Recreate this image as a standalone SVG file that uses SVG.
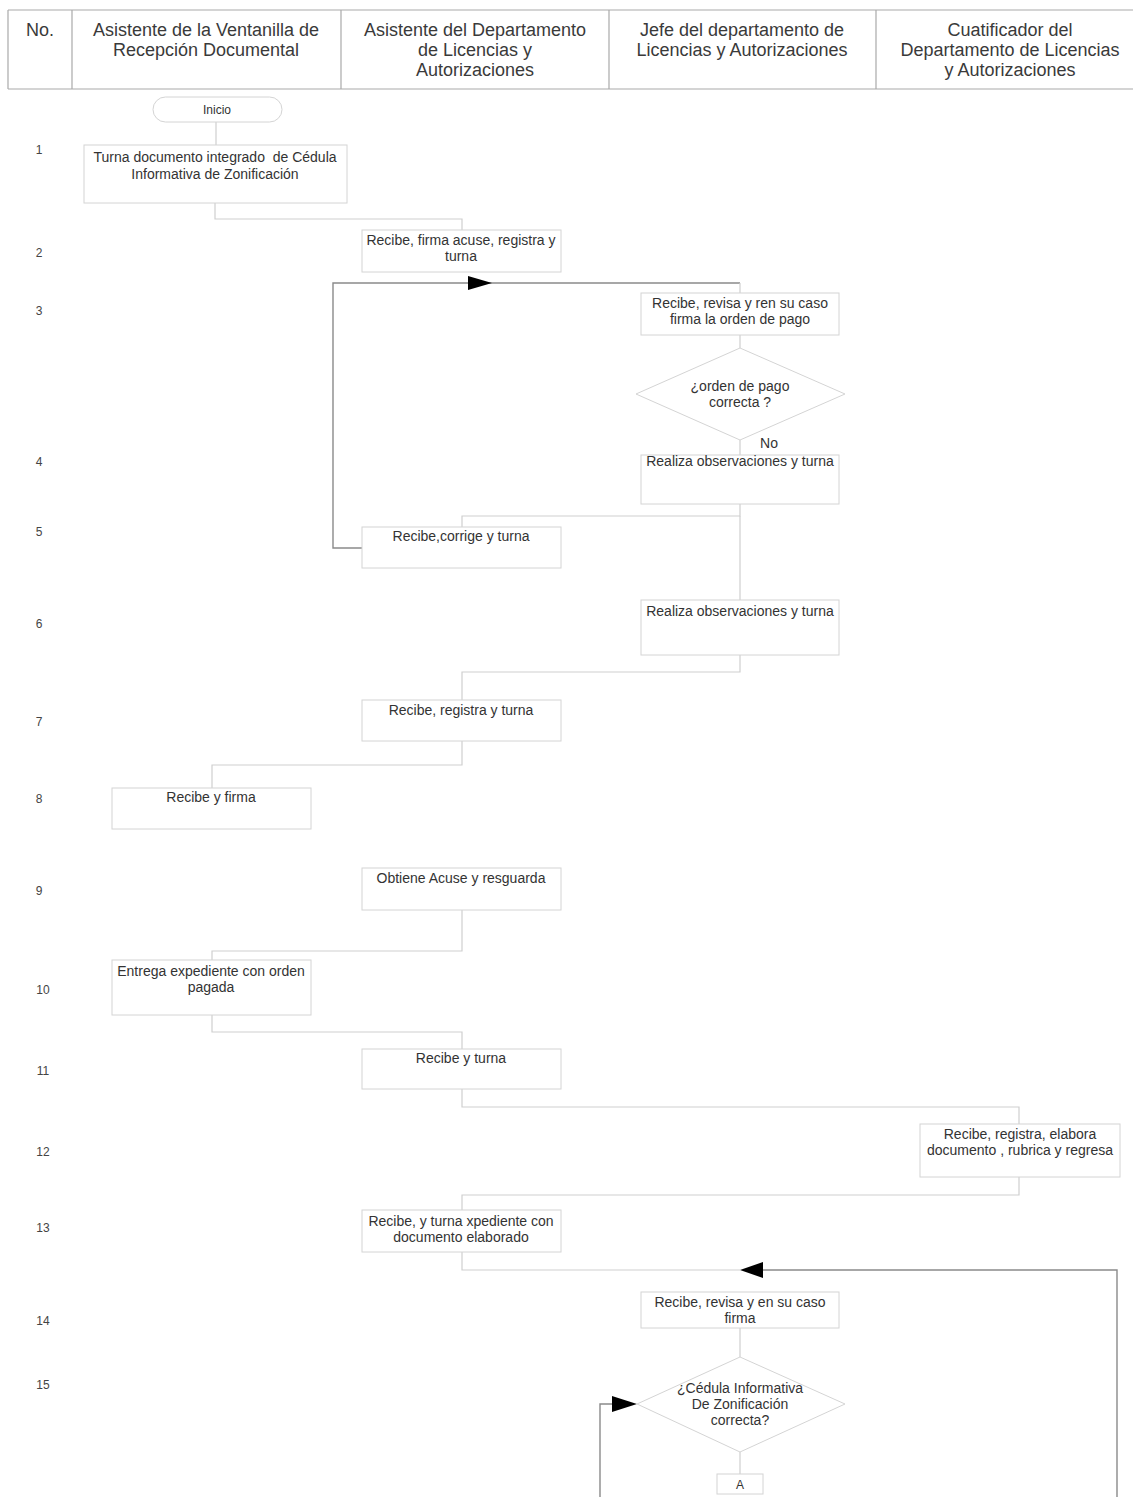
<svg xmlns="http://www.w3.org/2000/svg" width="1133" height="1497" viewBox="0 0 1133 1497">
<style>
text{font-family:"Liberation Sans",Arial,sans-serif;fill:#333}
.h{font-size:18px;fill:#3a3a3a;text-anchor:middle}
.t{font-size:14px;text-anchor:middle}
.n{font-size:12px;text-anchor:middle;fill:#444}
.box{fill:#fff;stroke:#d4d4d4;stroke-width:1}
.c{fill:none;stroke:#cfcfcf;stroke-width:1.2}
.cd{fill:none;stroke:#8a8a8a;stroke-width:1.4}
.ah{fill:#000}
</style>
<rect width="1133" height="1497" fill="#fff"/>
<g id="header">
<path d="M8,10 H1133 M8,89 H1133 M8,10 V89 M72,10 V89 M341,10 V89 M609,10 V89 M876,10 V89" fill="none" stroke="#aaa" stroke-width="1.2"/>
<text class="h" x="40" y="36">No.</text>
<text class="h" x="206" y="36">Asistente de la Ventanilla de</text>
<text class="h" x="206" y="56">Recepción Documental</text>
<text class="h" x="475" y="36">Asistente del Departamento</text>
<text class="h" x="475" y="56">de Licencias y</text>
<text class="h" x="475" y="76">Autorizaciones</text>
<text class="h" x="742" y="36">Jefe del departamento de</text>
<text class="h" x="742" y="56">Licencias y Autorizaciones</text>
<text class="h" x="1010" y="36">Cuatificador del</text>
<text class="h" x="1010" y="56">Departamento de Licencias</text>
<text class="h" x="1010" y="76">y Autorizaciones</text>
</g>
<g id="numbers">
<text class="n" x="39" y="154">1</text>
<text class="n" x="39" y="257">2</text>
<text class="n" x="39" y="315">3</text>
<text class="n" x="39" y="466">4</text>
<text class="n" x="39" y="536">5</text>
<text class="n" x="39" y="628">6</text>
<text class="n" x="39" y="726">7</text>
<text class="n" x="39" y="803">8</text>
<text class="n" x="39" y="895">9</text>
<text class="n" x="43" y="994">10</text>
<text class="n" x="43" y="1075">11</text>
<text class="n" x="43" y="1156">12</text>
<text class="n" x="43" y="1232">13</text>
<text class="n" x="43" y="1325">14</text>
<text class="n" x="43" y="1389">15</text>
</g>
<g id="connectors">
<path class="c" d="M216,122 V145"/>
<path class="c" d="M215,203 V219 H462 V230"/>
<path class="cd" d="M362,548 H333 V283 H740"/>
<polygon class="ah" points="468,276 492,283 468,290"/>
<path class="c" d="M740,283 V293"/>
<path class="c" d="M740,335 V348"/>
<path class="c" d="M740,440 V455"/>
<path class="c" d="M740,504 V516 H462 V527"/>
<path class="c" d="M740,516 V600"/>
<path class="c" d="M740,655 V672 H462 V700"/>
<path class="c" d="M462,741 V765 H212 V788"/>
<path class="c" d="M462,910 V951 H212 V960"/>
<path class="c" d="M212,1015 V1032 H462 V1049"/>
<path class="c" d="M462,1089 V1107 H1019 V1124"/>
<path class="c" d="M1019,1177 V1195 H462 V1210"/>
<path class="c" d="M462,1252 V1270 H740"/>
<path class="cd" d="M1117,1497 V1270 H760"/>
<polygon class="ah" points="763,1262 740,1270 763,1278"/>
<path class="c" d="M740,1328 V1357"/>
<path class="cd" d="M600,1497 V1404 H614"/>
<polygon class="ah" points="612,1396 637,1404 612,1412"/>
<path class="c" d="M740,1452 V1474"/>
</g>
<g id="inicio">
<rect class="box" x="153" y="97" width="129" height="25" rx="12.5"/>
<text class="t" x="217" y="114" style="font-size:12px">Inicio</text>
</g>
<g id="step1">
<rect class="box" x="84" y="145" width="263" height="58"/>
<text class="t" x="215" y="162" xml:space="preserve">Turna documento integrado  de Cédula</text>
<text class="t" x="215" y="179">Informativa de Zonificación</text>
</g>
<g id="step2">
<rect class="box" x="362" y="230" width="199" height="42"/>
<text class="t" x="461" y="245">Recibe, firma acuse, registra y</text>
<text class="t" x="461" y="261">turna</text>
</g>
<g id="step3">
<rect class="box" x="641" y="293" width="198" height="42"/>
<text class="t" x="740" y="308">Recibe, revisa y ren su caso</text>
<text class="t" x="740" y="324">firma la orden de pago</text>
</g>
<g id="decision1">
<polygon class="box" points="740,348 845,394 740,440 636,394"/>
<text class="t" x="740" y="391">¿orden de pago</text>
<text class="t" x="740" y="407">correcta ?</text>
<text class="t" x="769" y="448">No</text>
</g>
<g id="step4">
<rect class="box" x="641" y="455" width="198" height="49"/>
<text class="t" x="740" y="466">Realiza observaciones y turna</text>
</g>
<g id="step5">
<rect class="box" x="362" y="527" width="199" height="41"/>
<text class="t" x="461" y="541">Recibe,corrige y turna</text>
</g>
<g id="step6">
<rect class="box" x="641" y="600" width="198" height="55"/>
<text class="t" x="740" y="616">Realiza observaciones y turna</text>
</g>
<g id="step7">
<rect class="box" x="362" y="700" width="199" height="41"/>
<text class="t" x="461" y="715">Recibe, registra y turna</text>
</g>
<g id="step8">
<rect class="box" x="112" y="788" width="199" height="41"/>
<text class="t" x="211" y="802">Recibe y firma</text>
</g>
<g id="step9">
<rect class="box" x="362" y="868" width="199" height="42"/>
<text class="t" x="461" y="883">Obtiene Acuse y resguarda</text>
</g>
<g id="step10">
<rect class="box" x="112" y="960" width="199" height="55"/>
<text class="t" x="211" y="976">Entrega expediente con orden</text>
<text class="t" x="211" y="992">pagada</text>
</g>
<g id="step11">
<rect class="box" x="362" y="1049" width="199" height="40"/>
<text class="t" x="461" y="1063">Recibe y turna</text>
</g>
<g id="step12">
<rect class="box" x="920" y="1124" width="200" height="53"/>
<text class="t" x="1020" y="1139">Recibe, registra, elabora</text>
<text class="t" x="1020" y="1155">documento , rubrica y regresa</text>
</g>
<g id="step13">
<rect class="box" x="362" y="1210" width="199" height="42"/>
<text class="t" x="461" y="1226">Recibe, y turna xpediente con</text>
<text class="t" x="461" y="1242">documento elaborado</text>
</g>
<g id="step14">
<rect class="box" x="641" y="1292" width="198" height="36"/>
<text class="t" x="740" y="1307">Recibe, revisa y en su caso</text>
<text class="t" x="740" y="1323">firma</text>
</g>
<g id="decision2">
<polygon class="box" points="740,1357 845,1404 740,1452 637,1404"/>
<text class="t" x="740" y="1393">¿Cédula Informativa</text>
<text class="t" x="740" y="1409">De Zonificación</text>
<text class="t" x="740" y="1425">correcta?</text>
</g>
<g id="connectorA">
<rect class="box" x="717" y="1474" width="46" height="20"/>
<text class="t" x="740" y="1489" style="font-size:12px">A</text>
</g>
</svg>
